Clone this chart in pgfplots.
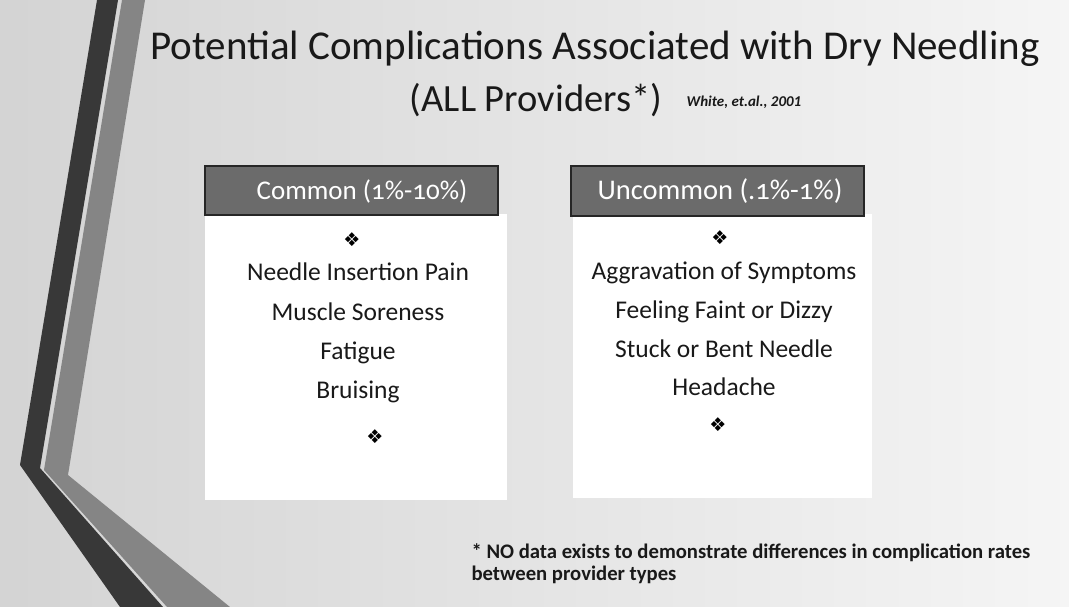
\documentclass[border=0pt]{standalone}
\usepackage{pgfplots}
\pgfplotsset{compat=1.18}
\usepackage{fontspec}
\setmainfont{Carlito}
\newfontfamily\hfont[Numbers=OldStyle]{Carlito}
\newfontfamily\symfont{DejaVu Sans}
\begin{document}
\begin{tikzpicture}
\begin{axis}[width=1069pt,height=607pt,scale only axis,
  xmin=0,xmax=1069,ymin=0,ymax=607,y dir=reverse,hide axis,clip=false]
% background
\fill[left color=black!17,right color=black!4] (axis cs:0,0) rectangle (axis cs:1069,607);
% white panels
\addplot[fill=white,draw=none] coordinates {(205,214)(507,214)(507,500)(205,500)} -- cycle;
\addplot[fill=white,draw=none] coordinates {(573,214)(872,214)(872,498)(573,498)} -- cycle;
% header boxes
\addplot[fill=black!58,draw=black!85,line width=1.2pt] coordinates {(205,166)(498,166)(498,215)(205,215)} -- cycle;
\addplot[fill=black!58,draw=black!85,line width=1.2pt] coordinates {(571,166)(864,166)(864,216)(571,216)} -- cycle;
% stripes
\addplot[fill=black!48,draw=none] coordinates {(122,0)(145,0)(68,475)(230,607)(167,607)(44,470)} -- cycle;
\addplot[fill=black!78,draw=none] coordinates {(97,0)(118,0)(40,468)(163,607)(120,607)(20,465)} -- cycle;
% title
\node[font=\fontsize{41}{46}\selectfont,text=black!90] at (axis cs:595,49) {Potential Complications Associated with Dry Needling};
\node[font=\fontsize{38.5}{44}\selectfont,text=black!90] at (axis cs:536,100) {(ALL Providers*)};
\node[font=\fontsize{15}{17}\selectfont\bfseries\itshape,text=black!90] at (axis cs:744,102) {White, et.al., 2001};
% headers
\node[font=\hfont\fontsize{27}{30}\selectfont,text=white] at (axis cs:362,191) {Common (1\%-10\%)};
\node[font=\hfont\fontsize{28.5}{30}\selectfont,text=white] at (axis cs:720,191) {Uncommon (.1\%-1\%)};
% list items
\addplot[draw=none,mark=none,nodes near coords,point meta=explicit symbolic,
  every node near coord/.append style={anchor=center,text height=17pt,text depth=5pt,font=\fontsize{25.5}{28}\selectfont,text=black!90}]
  table[col sep=comma,row sep=\\,meta=label] {
x,y,label\\
358,274,Needle Insertion Pain\\
358,314,Muscle Soreness\\
358,353,Fatigue\\
358,392,Bruising\\
724,273,Aggravation of Symptoms\\
724,312,Feeling Faint or Dizzy\\
724,351,Stuck or Bent Needle\\
724,389,Headache\\
};
% ornaments
\addplot[draw=none,mark=none,nodes near coords,point meta=explicit symbolic,
  every node near coord/.append style={anchor=center,font=\symfont\fontsize{19}{20}\selectfont,text=black}]
  table[col sep=comma,row sep=\\,meta=label] {
x,y,label\\
352,240,❖\\
720,238,❖\\
375,437,❖\\
718,425,❖\\
};
% footnote
\node[anchor=west,align=left,font=\fontsize{20.7}{22}\selectfont\bfseries,text=black!90] at (axis cs:468,564) {* NO data exists to demonstrate differences in complication rates\\between provider types};
\end{axis}
\end{tikzpicture}
\end{document}
